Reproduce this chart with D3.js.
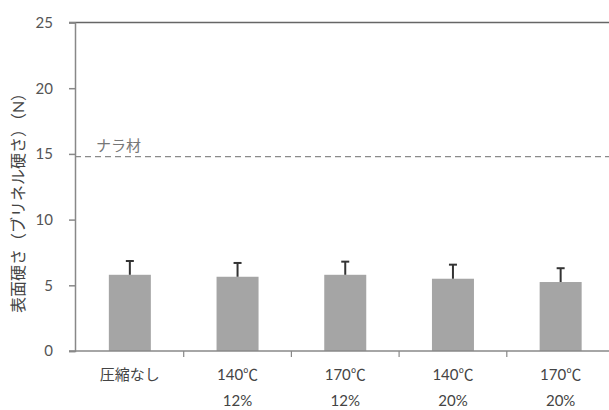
<!DOCTYPE html>
<html>
<head>
<meta charset="utf-8">
<script src="https://cdn.jsdelivr.net/npm/d3@7"></script>
<style>
  body { margin: 0; background: #fff; }
  text { font-family: Lato, "Noto Sans CJK JP", sans-serif; }
</style>
</head>
<body>
<div id="chart"></div>
<script>
// data
var categories = ["圧縮なし", "140℃ 12%", "170℃ 12%", "140℃ 20%", "170℃ 20%"];
var labelLines = [["圧縮なし"], ["140℃", "12%"], ["170℃", "12%"], ["140℃", "20%"], ["170℃", "20%"]];
var hardness = [5.8, 5.65, 5.8, 5.5, 5.25];
var errors = [1.05, 1.05, 1.0, 1.07, 1.05];
var yTicks = [0, 5, 10, 15, 20, 25];
var refValue = 14.8;
var refLabel = "ナラ材";

var width = 609, height = 410;

var svg = d3.select("#chart")
  .append("svg")
    .attr("width", width)
    .attr("height", height);

// scales
var x = d3.scaleBand()
  .domain(categories)
  .range([76, 614.5])
  .paddingInner(0.61)
  .paddingOuter(0.305);
var y = d3.scaleLinear()
  .domain([0, 25])
  .range([351, 22.5]);

// top border line
svg.append("line")
  .attr("x1", 69).attr("x2", width)
  .attr("y1", y(25)).attr("y2", y(25))
  .attr("stroke", "#666")
  .attr("stroke-width", 1.5);

// bars
svg.selectAll("rect.bar")
  .data(categories)
  .enter()
  .append("rect")
    .attr("class", "bar")
    .attr("x", function (d) { return x(d); })
    .attr("width", x.bandwidth())
    .attr("y", function (d, i) { return y(hardness[i]); })
    .attr("height", function (d, i) { return y(0) - y(hardness[i]); })
    .style("fill", "#a5a5a5");

// error bars
var err = svg.selectAll("g.err")
  .data(categories)
  .enter()
  .append("g")
    .attr("class", "err");
err.append("line")
  .attr("x1", function (d) { return x(d) + x.bandwidth() / 2; })
  .attr("x2", function (d) { return x(d) + x.bandwidth() / 2; })
  .attr("y1", function (d, i) { return y(hardness[i]); })
  .attr("y2", function (d, i) { return y(hardness[i] + errors[i]); })
  .attr("stroke", "#333")
  .attr("stroke-width", 2);
err.append("line")
  .attr("x1", function (d) { return x(d) + x.bandwidth() / 2 - 4; })
  .attr("x2", function (d) { return x(d) + x.bandwidth() / 2 + 4; })
  .attr("y1", function (d, i) { return y(hardness[i] + errors[i]); })
  .attr("y2", function (d, i) { return y(hardness[i] + errors[i]); })
  .attr("stroke", "#333")
  .attr("stroke-width", 2);

// reference line
svg.append("line")
  .attr("x1", 75).attr("x2", width)
  .attr("y1", y(refValue)).attr("y2", y(refValue))
  .attr("stroke", "#8a8a8a")
  .attr("stroke-width", 1.2)
  .attr("stroke-dasharray", "6,4");
svg.append("text")
  .attr("x", 96)
  .attr("y", y(refValue) - 6)
  .attr("font-size", 15)
  .attr("fill", "#777")
  .text(refLabel);

// y axis
var yAxis = svg.append("g")
  .attr("transform", "translate(75,0)")
  .call(d3.axisLeft(y).tickValues(yTicks).tickSize(6).tickPadding(16));
yAxis.select(".domain").attr("stroke", "#888").attr("stroke-width", 1.5);
yAxis.selectAll(".tick line").attr("stroke", "#888").attr("stroke-width", 1.5);
yAxis.selectAll(".tick text")
  .attr("font-size", 15)
  .attr("fill", "#555")
  .style("font-family", "Lato, sans-serif");

// x axis
var xAxis = svg.append("g")
  .attr("transform", "translate(0," + y(0) + ")");
xAxis.append("line")
  .attr("x1", 69).attr("x2", width)
  .attr("stroke", "#888").attr("stroke-width", 1.5);
xAxis.selectAll("line.tick")
  .data(categories.slice(1))
  .enter()
  .append("line")
    .attr("class", "tick")
    .attr("x1", function (d) { return x(d) - x.step() * x.paddingInner() / 2; })
    .attr("x2", function (d) { return x(d) - x.step() * x.paddingInner() / 2; })
    .attr("y1", 0).attr("y2", 6)
    .attr("stroke", "#888").attr("stroke-width", 1.2);

var xl = svg.selectAll("text.xlab")
  .data(categories)
  .enter()
  .append("text")
    .attr("class", "xlab")
    .attr("text-anchor", "middle")
    .attr("font-size", 15)
    .attr("fill", "#444")
    .attr("transform", function (d) { return "translate(" + (x(d) + x.bandwidth() / 2) + ",0)"; });
xl.selectAll("tspan")
  .data(function (d, i) { return labelLines[i]; })
  .enter()
  .append("tspan")
    .attr("x", 0)
    .attr("y", function (d, i) { return 380 + i * 26; })
    .text(function (d) { return d; });

// y axis title
svg.append("text")
  .attr("transform", "translate(24,199) rotate(-90)")
  .attr("text-anchor", "middle")
  .attr("font-size", 16)
  .attr("fill", "#444")
  .text("表面硬さ（ブリネル硬さ）（N）");
</script>
</body>
</html>
